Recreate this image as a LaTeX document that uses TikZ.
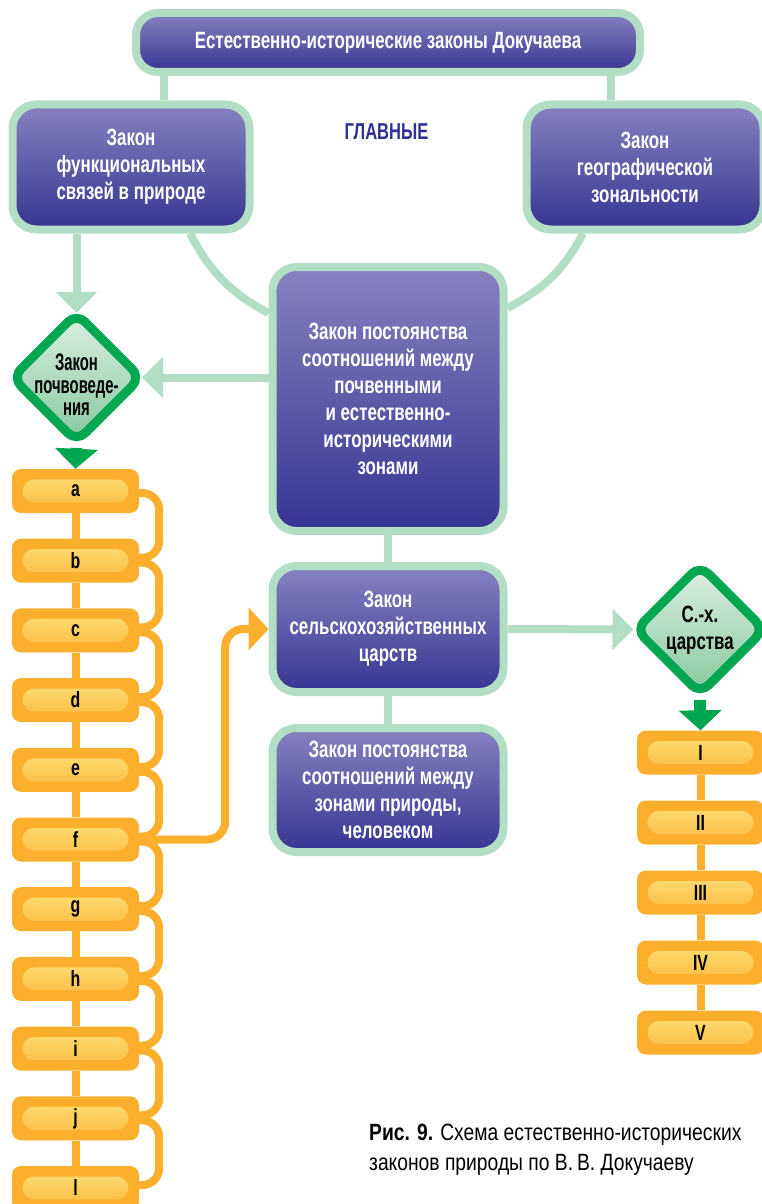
\documentclass[tikz,border=0pt]{standalone}
\usepackage{fontspec}
\setmainfont[FakeStretch=0.72]{Liberation Sans}
\newfontfamily\tightfont[FakeStretch=0.62]{Liberation Sans}
\newfontfamily\capfont[FakeStretch=0.82]{Liberation Sans}
\usetikzlibrary{arrows.meta,shapes.geometric}

\definecolor{lawtop}{HTML}{8782C0}
\definecolor{lawbot}{HTML}{363492}
\definecolor{mint}{HTML}{B3DEC6}
\definecolor{leaf}{HTML}{00A650}
\definecolor{leaftop}{HTML}{DCEFE3}
\definecolor{leafbot}{HTML}{86C89E}
\definecolor{amber}{HTML}{FBAF2C}
\definecolor{ambertop}{HTML}{FDD86B}
\definecolor{amberbot}{HTML}{FCC14C}
\definecolor{ink}{HTML}{2E3192}

\tikzset{
  law/.style={draw=mint, line width=8pt, top color=lawtop, bottom color=lawbot,
    rounded corners=24pt, text=white, align=center, inner sep=0pt,
    font=\bfseries\fontsize{23.5}{27}\selectfont},
  lawdiamond/.style={diamond, draw=leaf, line width=9pt, top color=leaftop,
    bottom color=leafbot, rounded corners=12pt, minimum width=132pt,
    minimum height=132pt, inner sep=0pt},
  dlabel/.style={font=\tightfont\bfseries\fontsize{24}{22.5}\selectfont, align=center, inner sep=0pt},
  lettbox/.style={fill=amber, rounded corners=9pt, minimum width=127pt,
    minimum height=44pt, inner sep=0pt},
  glow/.style={top color=ambertop, bottom color=amberbot, rounded corners=11.5pt,
    minimum width=106pt, minimum height=23pt, inner sep=0pt,
    font=\bfseries\fontsize{22}{22}\selectfont},
  link/.style={draw=mint, line width=8pt},
  linkarrow/.style={link, -{Triangle[length=21pt,width=40pt]}},
  leafarrow/.style={draw=leaf, line width=12pt, -{Triangle[length=20pt,width=42pt]}},
  amberline/.style={draw=amber, line width=8pt},
}

\begin{document}
\begin{tikzpicture}[x=1pt, y=1pt]
\useasboundingbox (0,0) rectangle (762,-1204);

%% laws
\node[law, minimum width=504pt, minimum height=59pt, rounded corners=22pt] (head) at (388,-42.5) {Естественно-исторические законы Докучаева};
\node[law, minimum width=237pt, minimum height=125pt] (lfun) at (131,-167) {Закон\\функциональных\\связей в природе};
\node[law, minimum width=237pt, minimum height=125pt] (rgeo) at (645,-167) {Закон\\географической\\зональности};
\node[text=ink, font=\bfseries\fontsize{23}{27}\selectfont] (main) at (386.5,-132) {ГЛАВНЫЕ};

\node[law, minimum width=231pt, minimum height=264pt] (cent) at (388,-399) {Закон постоянства\\соотношений между\\почвенными\\и естественно-\\историческими\\зонами};
\node[law, minimum width=231pt, minimum height=126pt] (sch) at (388,-629) {Закон\\сельскохозяйственных\\царств};
\node[law, minimum width=231pt, minimum height=124pt] (zone) at (388,-790) {Закон постоянства\\соотношений между\\зонами природы,\\человеком};

% diamonds
\node[lawdiamond] (soil) at (76.5,-377.5) {};
\node[dlabel] (soiltext) at (76.5,-385) {Закон\\почвоведе-\\ния};
\node[lawdiamond] (crop) at (700,-629.5) {};
\node[dlabel, font=\bfseries\fontsize{23.5}{27}\selectfont] (croptext) at (700,-630) {С.-х.\\царства};

%% soil groups a..l
\foreach \lett [count=\i] in {a,b,c,d,e,f,g,h,i,j,l}
  {
  \node[lettbox] (L\i) at (75.5,{-491-69.7*(\i-1)}) {};
  \node[glow] (G\i) at (L\i) {\lett};
  }
\foreach \i in {1,...,10}
  {
  \pgfmathtruncatemacro\j{\i+1}
  \draw[amberline] (L\i.south) -- (L\j.north);
  \draw[amberline, rounded corners=17pt] ([yshift=-2pt]L\i.east) -- ++(20,0) |- ([yshift=3pt]L\j.east);
  }

%% kingdoms I..V
\foreach \rom [count=\i] in {I,II,III,IV,V}
  {
  \node[lettbox] (R\i) at (700.5,{-752.5-70*(\i-1)}) {};
  \node[glow] (H\i) at (R\i) {\rom};
  }
\foreach \i in {1,...,4}
  {
  \pgfmathtruncatemacro\j{\i+1}
  \draw[amberline] (R\i.south) -- (R\j.north);
  }

% links between laws
\draw[link] ([xshift=33pt]lfun.north) -- ([xshift=33pt]lfun.north |- head.south);
\draw[link] ([xshift=-34pt]rgeo.north) -- ([xshift=-34pt]rgeo.north |- head.south);
\draw[link] ([xshift=59pt]lfun.south) to[out=-62,in=152] ([yshift=86pt]cent.west);
\draw[link] ([xshift=-62pt]rgeo.south) to[out=-118,in=28] ([yshift=91pt]cent.east);
\draw[link] (cent.south) -- (sch.north);
\draw[link] (sch.south) -- (zone.north);

% arrows
\draw[linkarrow] (soil.north |- lfun.south) -- ([yshift=-6pt]soil.north);
\draw[linkarrow] (soil.east -| cent.west) -- ([xshift=-5pt]soil.east);
\draw[linkarrow] (sch.east) -- ([xshift=4pt]crop.west);
\draw[leafarrow] (soil.south) -- (L1.north);
\draw[leafarrow] (crop.south) -- (R1.north);
\draw[amberline, rounded corners=18pt, -{Triangle[length=20pt,width=42pt]}] (L6.east) -- ++(86,0) |- (sch.west);

% caption
\node[anchor=north west, align=left, inner sep=0pt, font=\capfont\fontsize{23.5}{30}\selectfont] (cap) at (369,-1124) {\textbf{Рис. 9.} Схема естественно-исторических\\законов природы по В.\,В. Докучаеву};

\end{tikzpicture}
\end{document}
